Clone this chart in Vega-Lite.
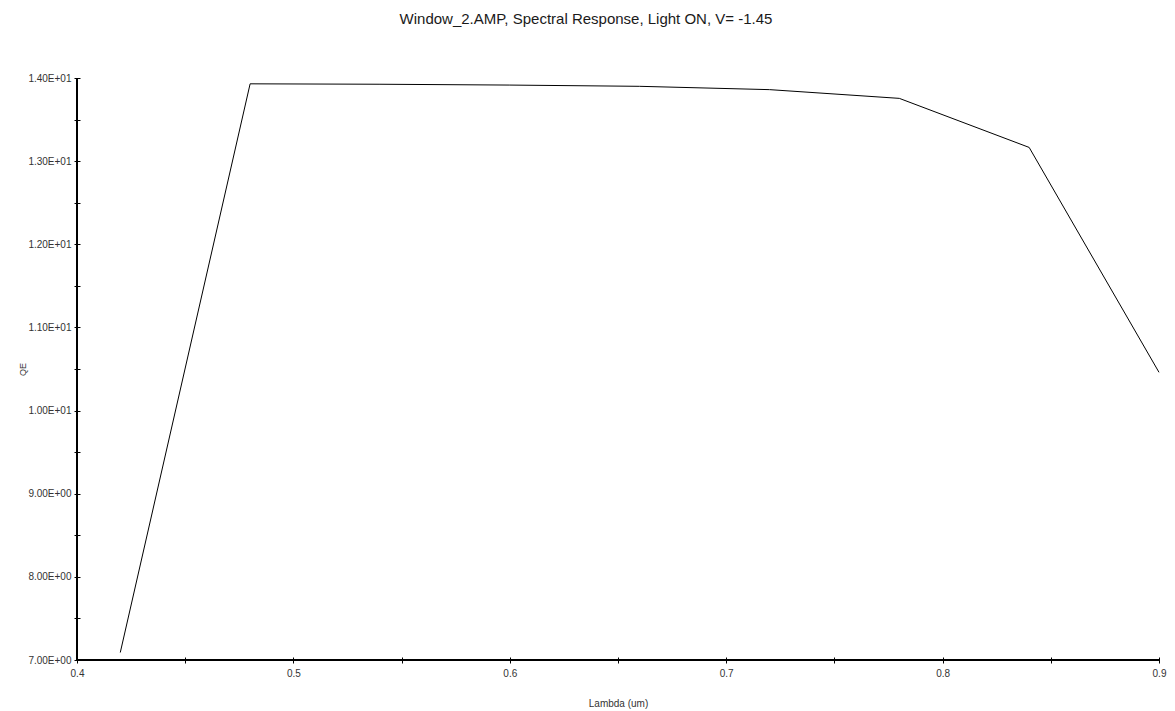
{
  "$schema": "https://vega.github.io/schema/vega-lite/v6.json",
  "width": 1082,
  "height": 582,
  "autosize": {"type": "none"},
  "padding": {"left": 77, "top": 78, "right": 16, "bottom": 51},
  "background": "white",
  "config": {"view": {"stroke": null}, "font": "Liberation Sans"},
  "title": {
    "text": "Window_2.AMP, Spectral Response, Light ON, V= -1.45",
    "anchor": "middle",
    "dx": -32,
    "offset": 46,
    "fontSize": 15,
    "fontWeight": "normal",
    "color": "#1a1a1a",
    "font": "Liberation Sans"
  },
  "data": {
    "values": [
      {"lambda": 0.42, "qe": 7.09},
      {"lambda": 0.48, "qe": 13.93},
      {"lambda": 0.54, "qe": 13.925},
      {"lambda": 0.60, "qe": 13.915},
      {"lambda": 0.66, "qe": 13.9},
      {"lambda": 0.72, "qe": 13.86},
      {"lambda": 0.78, "qe": 13.755},
      {"lambda": 0.84, "qe": 13.165},
      {"lambda": 0.90, "qe": 10.46}
    ]
  },
  "layer": [
    {
      "mark": {"type": "line", "color": "black", "strokeWidth": 1},
      "encoding": {
        "x": {
          "field": "lambda",
          "type": "quantitative",
          "scale": {"domain": [0.4, 0.9], "nice": false, "zero": false},
          "axis": {
            "title": "Lambda (um)",
            "values": [0.4, 0.45, 0.5, 0.55, 0.6, 0.65, 0.7, 0.75, 0.8, 0.85, 0.9],
            "labelExpr": "abs(datum.value*10 - round(datum.value*10)) < 0.001 ? format(datum.value, '.1f') : ''",
            "grid": false,
            "domain": false,
            "offset": -3,
            "tickSize": 6,
            "tickColor": "black",
            "labelPadding": 5,
            "labelFontSize": 10,
            "labelColor": "#333333",
            "labelFont": "Liberation Sans",
            "labelFlush": false,
            "titleFont": "Liberation Sans",
            "titleFontSize": 10,
            "titleFontWeight": "normal",
            "titleColor": "#333333",
            "titleBaseline": "middle",
            "titleY": 46,
            "titleX": 541
          }
        },
        "y": {
          "field": "qe",
          "type": "quantitative",
          "scale": {"domain": [7, 14], "nice": false, "zero": false},
          "axis": {
            "title": "QE",
            "values": [7, 7.5, 8, 8.5, 9, 9.5, 10, 10.5, 11, 11.5, 12, 12.5, 13, 13.5, 14],
            "labelExpr": "abs(datum.value - round(datum.value)) > 0.01 ? '' : (datum.value >= 10 ? format(datum.value/10, '.2f') + 'E+01' : format(datum.value, '.2f') + 'E+00')",
            "grid": false,
            "domain": false,
            "offset": -3,
            "tickSize": 6,
            "tickColor": "black",
            "labelPadding": 3,
            "labelFontSize": 10,
            "labelColor": "#333333",
            "labelFont": "Liberation Sans",
            "labelFlush": false,
            "titleFont": "Liberation Sans",
            "titleFontSize": 9,
            "titleFontWeight": "normal",
            "titleColor": "#333333",
            "titleBaseline": "middle",
            "titleX": -58,
            "titleY": 291
          }
        }
      }
    },
    {
      "mark": {"type": "rule", "color": "black", "strokeWidth": 1.5},
      "encoding": {"x": {"datum": 0.4, "type": "quantitative"}}
    },
    {
      "mark": {"type": "rule", "color": "black", "strokeWidth": 1.5},
      "encoding": {"y": {"datum": 7, "type": "quantitative"}}
    }
  ]
}
